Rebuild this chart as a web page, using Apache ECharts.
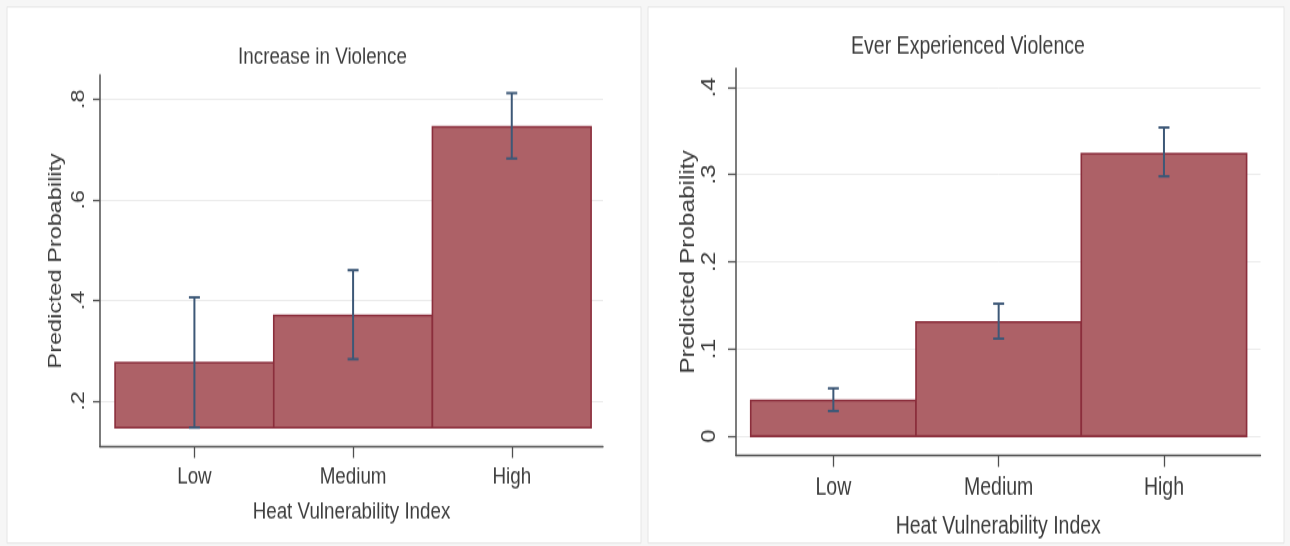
<!DOCTYPE html>
<html>
<head>
<meta charset="utf-8">
<script src="https://cdn.jsdelivr.net/npm/echarts@6/dist/echarts.min.js"></script>
<style>
  html, body { margin: 0; padding: 0; background: #f6f6f6; width: 1290px; height: 546px; overflow: hidden; }
  #frame { position: relative; width: 1290px; height: 546px; overflow: hidden; background: #f6f6f6; }
  /* the figure is laid out on a shorter canvas and stretched vertically */
  #chart { position: absolute; left: 0; top: 0; width: 1290px; height: 437px;
           transform: scaleY(1.24943); transform-origin: 0 0; }
</style>
</head>
<body>
<div id="frame"><div id="chart"></div></div>
<script>
// Heat Vulnerability Index groups
const categories = ['Low', 'Medium', 'High'];

// Panel 1: Increase in Violence (predicted probability with 95% CI)
const increaseMean  = [0.276, 0.370, 0.745];
const increaseLower = [0.147, 0.283, 0.682];
const increaseUpper = [0.406, 0.460, 0.812];
const increaseBase  = 0.147;
const increaseTicks = [0.2, 0.4, 0.6, 0.8];

// Panel 2: Ever Experienced Violence
const everMean  = [0.041, 0.131, 0.324];
const everLower = [0.029, 0.112, 0.298];
const everUpper = [0.055, 0.152, 0.354];
const everBase  = 0;
const everTicks = [0, 0.1, 0.2, 0.3, 0.4];

const catPositions = [1, 2, 3];

const FONT = "'Liberation Sans', Arial, sans-serif";
const TEXT = '#3d3d3d';
const AXIS = '#505050';
const BAR_FILL = '#ad6167';
const BAR_EDGE = '#8b2e3c';
const CI_COLOR = '#3d5877';

// Stata-style tick labels: .2 .4 ... and 0
function probLabel(v) {
  if (Math.abs(v) < 1e-9) return '0';
  return String(+v.toFixed(2)).replace(/^0\./, '.');
}

function barRenderer(base) {
  return function (params, api) {
    const x = api.value(0);
    const y = api.value(1);
    const tl = api.coord([x - 0.5, y]);
    const br = api.coord([x + 0.5, base]);
    return {
      type: 'rect',
      shape: { x: tl[0], y: tl[1], width: br[0] - tl[0], height: br[1] - tl[1] },
      style: { fill: BAR_FILL, stroke: BAR_EDGE, lineWidth: 1.6 }
    };
  };
}

function ciRenderer(params, api) {
  const x = api.value(0);
  const lo = api.coord([x, api.value(1)]);
  const hi = api.coord([x, api.value(2)]);
  const cap = 5.5;
  const st = { stroke: CI_COLOR, lineWidth: 2 };
  return {
    type: 'group',
    children: [
      { type: 'line', shape: { x1: lo[0], y1: lo[1], x2: hi[0], y2: hi[1] }, style: st },
      { type: 'line', shape: { x1: hi[0] - cap, y1: hi[1], x2: hi[0] + cap, y2: hi[1] }, style: st },
      { type: 'line', shape: { x1: lo[0] - cap, y1: lo[1], x2: lo[0] + cap, y2: lo[1] }, style: st }
    ]
  };
}

function xAxisFor(gridIndex, min, max, fontSize, margin, nameGap) {
  return {
    type: 'value', gridIndex, min, max,
    name: 'Heat Vulnerability Index', nameLocation: 'middle', nameGap,
    nameTextStyle: { fontFamily: FONT, fontSize, color: TEXT },
    axisLine: { show: true, onZero: false, lineStyle: { color: AXIS, width: 1.3 } },
    axisTick: { show: true, customValues: catPositions, length: 9, lineStyle: { color: AXIS, width: 1.3 } },
    axisLabel: {
      customValues: catPositions, margin,
      formatter: v => categories[Math.round(v) - 1],
      fontFamily: FONT, fontSize, color: TEXT
    },
    splitLine: { show: false }
  };
}

function yAxisFor(gridIndex, min, max, ticks, fontSize, margin, tickLen) {
  return {
    type: 'value', gridIndex, min, max,
    name: 'Predicted Probability', nameLocation: 'middle', nameGap: 35, nameRotate: 90,
    nameTextStyle: { fontFamily: FONT, fontSize, color: TEXT },
    axisLine: { show: true, onZero: false, lineStyle: { color: AXIS, width: 1.5 } },
    axisTick: { show: true, customValues: ticks, length: tickLen, lineStyle: { color: AXIS, width: 1.3 } },
    axisLabel: {
      customValues: ticks, rotate: 90, margin,
      formatter: probLabel,
      fontFamily: FONT, fontSize, color: TEXT
    },
    splitLine: { show: true, lineStyle: { color: '#ebebeb', width: 1 } }
  };
}

const toPairs = arr => arr.map((v, i) => [catPositions[i], v]);
const toCI = (lo, hi) => lo.map((v, i) => [catPositions[i], v, hi[i]]);

const chart = echarts.init(document.getElementById('chart'));
chart.setOption({
  backgroundColor: '#f6f6f6',
  animation: false,
  graphic: [
    { type: 'rect', shape: { x: 7, y: 5.6, width: 634, height: 429 },
      style: { fill: '#ffffff', stroke: '#e6e6e6', lineWidth: 1 }, z: -10 },
    { type: 'rect', shape: { x: 648, y: 5.6, width: 636, height: 429 },
      style: { fill: '#ffffff', stroke: '#e6e6e6', lineWidth: 1 }, z: -10 },
    { type: 'text', x: 322.5, y: 46, z: 10,
      style: { text: 'Increase in Violence', align: 'center', verticalAlign: 'middle',
               fontFamily: FONT, fontSize: 18.8, fill: TEXT } },
    { type: 'text', x: 968, y: 37.6, z: 10,
      style: { text: 'Ever Experienced Violence', align: 'center', verticalAlign: 'middle',
               fontFamily: FONT, fontSize: 19.5, fill: TEXT } }
  ],
  grid: [
    { left: 100, right: 687, top: 60.0, bottom: 79.5, outerBoundsMode: 'none' },
    { left: 736, right: 29.5, top: 54.7, bottom: 72.4, outerBoundsMode: 'none' }
  ],
  xAxis: [
    xAxisFor(0, 0.405, 3.575, 18.8, 15, 43),
    xAxisFor(1, 0.411, 3.584, 19.5, 16, 47)
  ],
  yAxis: [
    yAxisFor(0, 0.109, 0.848, increaseTicks, 18.8, 12, 7),
    yAxisFor(1, -0.0221, 0.4218, everTicks, 19.5, 16, 8)
  ],
  series: [
    { type: 'custom', xAxisIndex: 0, yAxisIndex: 0, renderItem: barRenderer(increaseBase),
      data: toPairs(increaseMean), encode: { x: 0, y: 1 }, z: 2 },
    { type: 'custom', xAxisIndex: 0, yAxisIndex: 0, renderItem: ciRenderer,
      data: toCI(increaseLower, increaseUpper), encode: { x: 0, y: [1, 2] }, z: 3 },
    { type: 'custom', xAxisIndex: 1, yAxisIndex: 1, renderItem: barRenderer(everBase),
      data: toPairs(everMean), encode: { x: 0, y: 1 }, z: 2 },
    { type: 'custom', xAxisIndex: 1, yAxisIndex: 1, renderItem: ciRenderer,
      data: toCI(everLower, everUpper), encode: { x: 0, y: [1, 2] }, z: 3 }
  ]
});
</script>
</body>
</html>
